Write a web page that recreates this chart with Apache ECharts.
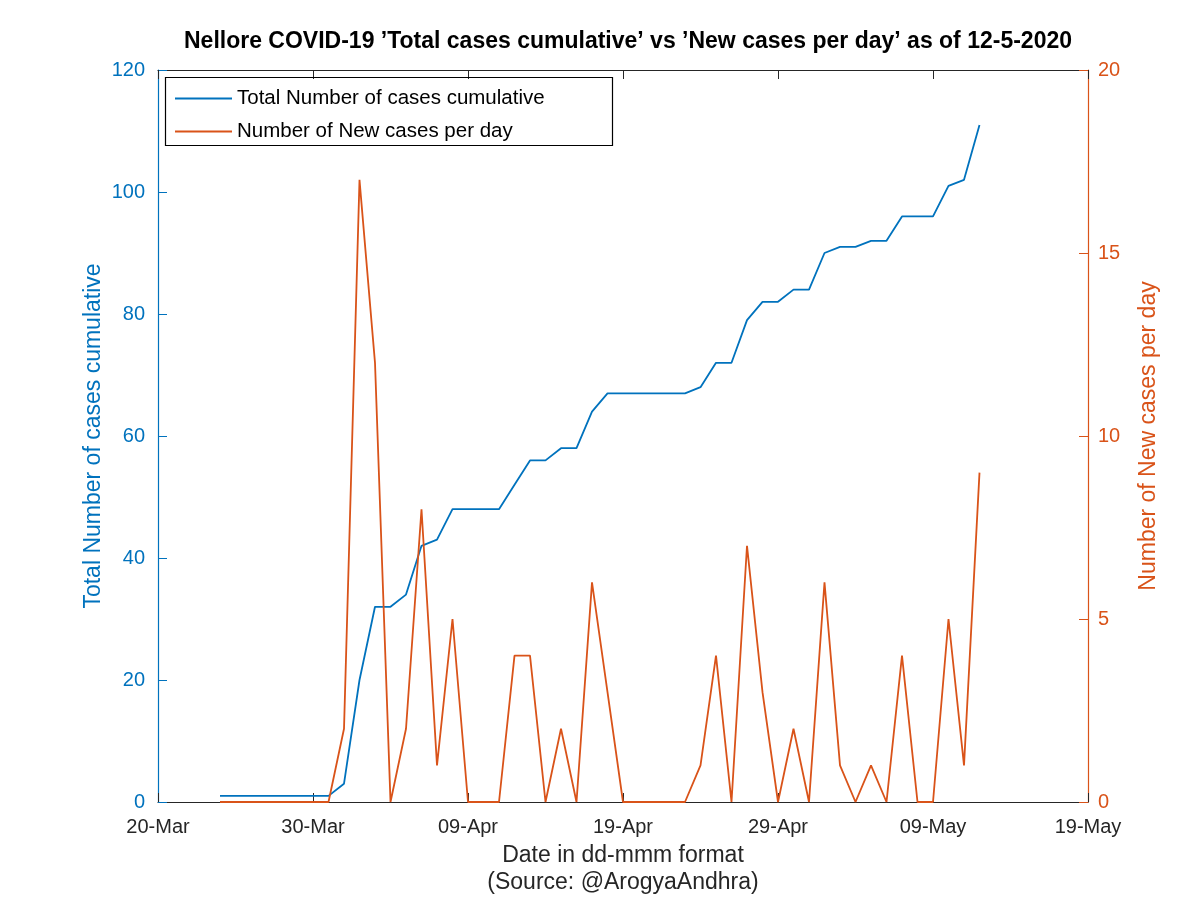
<!DOCTYPE html>
<html>
<head>
<meta charset="utf-8">
<script src="https://cdn.jsdelivr.net/npm/echarts@6/dist/echarts.min.js"></script>
<style>html,body{margin:0;padding:0;background:#fff;overflow:hidden}#c{width:1200px;height:898px}</style>
</head>
<body>
<div id="c"></div>
<script>
// Data (dates from 24-Mar-2020 to 12-May-2020)
const startDate = '2020-03-24';
const totalCases = [1,1,1,1,1,1,1,1,3,20,32,32,34,42,43,48,48,48,48,52,56,56,58,58,64,67,67,67,67,67,67,68,72,72,79,82,82,84,84,90,91,91,92,92,96,96,96,101,102,111];
const newCases   = [0,0,0,0,0,0,0,0,2,17,12,0,2,8,1,5,0,0,0,4,4,0,2,0,6,3,0,0,0,0,0,1,4,0,7,3,0,2,0,6,1,0,1,0,4,0,0,5,1,9];
const xTickDates = ['20-Mar','30-Mar','09-Apr','19-Apr','29-Apr','09-May','19-May'];

const DAY = 86400000;
const t0 = Date.parse(startDate + 'T00:00:00Z');
const xs = totalCases.map((_, i) => t0 + i * DAY);
const xMin = Date.parse('2020-03-20T00:00:00Z');
const xMax = Date.parse('2020-05-19T00:00:00Z');
function fmt(v){ const i = Math.round((v - xMin) / (10 * DAY)); return xTickDates[i] || ''; }

const BLUE = '#0072BD', ORANGE = '#D95319', DARK = '#262626';
const FONT = '"Liberation Sans", Arial, Helvetica, sans-serif';

const chart = echarts.init(document.getElementById('c'), null, {renderer:'canvas'});
chart.setOption({
  animation: false,
  backgroundColor: '#fff',
  textStyle: {fontFamily: FONT},
  title: {
    text: 'Nellore COVID-19 ’Total cases cumulative’ vs ’New cases per day’ as of 12-5-2020',
    left: 623, top: 25, textAlign: 'center',
    textStyle: {fontSize: 23, fontWeight: 'bold', color: '#000', fontFamily: FONT}
  },
  grid: {left: 158, right: 112, top: 70, bottom: 96, containLabel: false, outerBoundsMode: 'none'},
  legend: {
    orient: 'vertical', left: 170, top: 83, icon: 'rect',
    itemWidth: 57, itemHeight: 2, itemGap: 12,
    textStyle: {fontSize: 20.5, color: '#000', fontFamily: FONT, padding: [0,0,0,0]},
    data: ['Total Number of cases cumulative', 'Number of New cases per day']
  },
  graphic: [{
    type: 'rect', left: 163, top: 75, z: 100, silent: true,
    shape: {width: 447, height: 68},
    style: {fill: 'none', stroke: '#000', lineWidth: 1.2}
  }],
  xAxis: [{
    type: 'value', min: xMin, max: xMax, interval: 10 * DAY,
    name: 'Date in dd-mmm format\n(Source: @ArogyaAndhra)',
    nameLocation: 'middle', nameGap: 40,
    nameTextStyle: {fontSize: 23, color: DARK, lineHeight: 27, fontFamily: FONT},
    axisLine: {show: true, onZero: false, lineStyle: {color: DARK, width: 1.2}},
    axisTick: {show: true, inside: true, length: 9, lineStyle: {color: DARK}},
    axisLabel: {fontSize: 20, color: DARK, margin: 15, formatter: v => fmt(v), fontFamily: FONT},
    splitLine: {show: false}
  }, {
    type: 'value', min: xMin, max: xMax, interval: 10 * DAY, position: 'top',
    axisLine: {show: true, onZero: false, lineStyle: {color: DARK, width: 1.2}},
    axisTick: {show: true, inside: true, length: 9, lineStyle: {color: DARK}},
    axisLabel: {show: false}, splitLine: {show: false}
  }],
  yAxis: [{
    type: 'value', min: 0, max: 120, interval: 20, position: 'left',
    name: 'Total Number of cases cumulative', nameLocation: 'middle', nameGap: 53, nameMoveOverlap: false,
    nameTextStyle: {fontSize: 23, color: BLUE, fontFamily: FONT},
    axisLine: {show: true, onZero: false, lineStyle: {color: BLUE, width: 1.2}},
    axisTick: {show: true, inside: true, length: 9, lineStyle: {color: BLUE}},
    axisLabel: {fontSize: 20, color: BLUE, margin: 13, fontFamily: FONT},
    splitLine: {show: false}
  }, {
    type: 'value', min: 0, max: 20, interval: 5, position: 'right',
    name: 'Number of New cases per day', nameLocation: 'middle', nameGap: 49, nameMoveOverlap: false,
    nameTextStyle: {fontSize: 23, color: ORANGE, fontFamily: FONT},
    axisLine: {show: true, onZero: false, lineStyle: {color: ORANGE, width: 1.2}},
    axisTick: {show: true, inside: true, length: 9, lineStyle: {color: ORANGE}},
    axisLabel: {fontSize: 20, color: ORANGE, margin: 10, fontFamily: FONT},
    splitLine: {show: false}
  }],
  series: [{
    name: 'Total Number of cases cumulative', type: 'line', xAxisIndex: 0, yAxisIndex: 0,
    data: xs.map((x, i) => [x, totalCases[i]]),
    symbol: 'none', lineStyle: {color: BLUE, width: 1.8}, itemStyle: {color: BLUE}
  }, {
    name: 'Number of New cases per day', type: 'line', xAxisIndex: 0, yAxisIndex: 1,
    data: xs.map((x, i) => [x, newCases[i]]),
    symbol: 'none', lineStyle: {color: ORANGE, width: 1.8}, itemStyle: {color: ORANGE}
  }]
});
</script>
</body>
</html>
